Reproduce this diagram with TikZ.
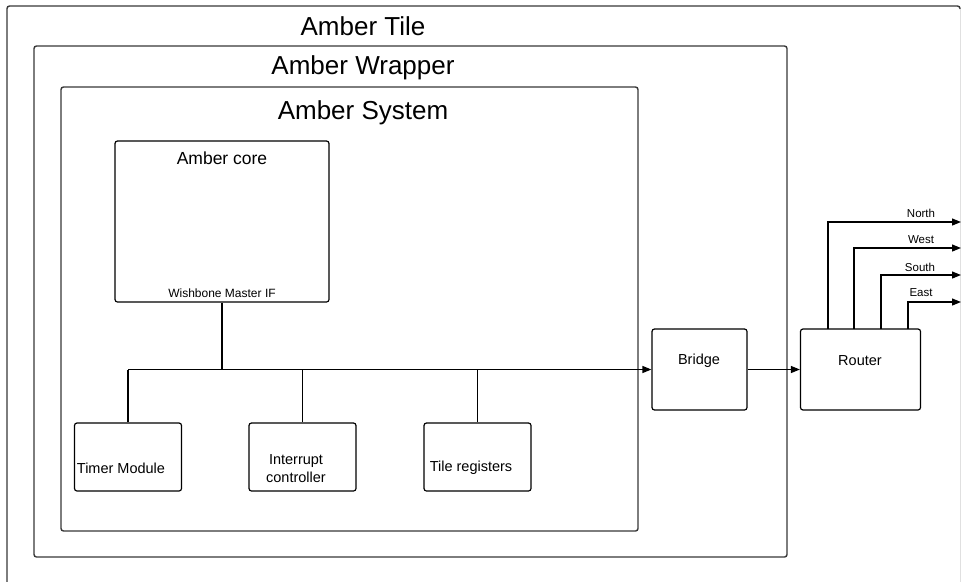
\documentclass[tikz,border=0pt]{standalone}
\usepackage{fontspec}
\setmainfont{Liberation Sans}
\usetikzlibrary{arrows.meta}
\begin{document}
\begin{tikzpicture}[x=1pt,y=-1pt,
  container/.style={draw=black!78,line width=1.4pt,rounded corners=2.5pt,rectangle,inner sep=0pt},
  blockbox/.style={draw=black,line width=1.2pt,rounded corners=2.5pt,rectangle,inner sep=0pt},
  titletext/.style={inner sep=0pt,font=\fontsize{26}{30}\selectfont},
  coretext/.style={inner sep=0pt,font=\fontsize{17.5}{21}\selectfont},
  blocktext/.style={inner sep=0pt,align=center,font=\fontsize{14.5}{17.5}\selectfont},
  smalltext/.style={inner sep=0pt,font=\fontsize{12}{14}\selectfont},
  dirtext/.style={inner sep=0pt,font=\fontsize{11.5}{13}\selectfont},
  wire/.style={draw=black,line width=1.2pt},
  arr/.style={wire,-{Triangle[length=9pt,width=7pt]}}]
\useasboundingbox (0,0) rectangle (961,581);
\clip (0,0) rectangle (961,581);
% Amber Tile (partly outside the picture)
\draw[black!78,line width=1.4pt,rounded corners=2.5pt] (7,600) -- (7,6) -- (960,6) -- (960,9);
\draw[black!12,line width=1pt] (960,9) -- (960,600);
\node[titletext] (tiletitle) at (363,26) {Amber Tile};
% Amber Wrapper
\node[container,minimum width=753pt,minimum height=511pt] (wrapper) at (410.5,301.5) {};
\node[titletext] (wraptitle) at (363,68) {Amber Wrapper};
% Amber System
\node[container,minimum width=577pt,minimum height=444pt] (system) at (349.5,309) {};
\node[titletext] (systitle) at (363,113) {Amber System};
% Amber core
\node[blockbox,minimum width=214pt,minimum height=161pt] (core) at (222,221.5) {};
\node[coretext] (coretitle) at (222,158) {Amber core};
\node[smalltext] (wbif) at (222,293) {Wishbone Master IF};
% peripherals
\node[blockbox,minimum width=107pt,minimum height=68pt] (timer) at (128,457) {};
\node[blocktext] (timertext) at (121,468) {Timer Module};
\node[blockbox,minimum width=107pt,minimum height=68pt] (intc) at (302.5,457) {};
\node[blocktext] (intctext) at (296,468.5) {Interrupt\\controller};
\node[blockbox,minimum width=107pt,minimum height=68pt] (treg) at (477.5,457) {};
\node[blocktext] (tregtext) at (471,468) {Tile registers};
% bridge and router
\node[blockbox,minimum width=95pt,minimum height=81pt] (bridge) at (699.5,369.5) {};
\node[blocktext] (bridgetext) at (699,361) {Bridge};
\node[blockbox,minimum width=120pt,minimum height=81pt] (router) at (860.5,369.5) {};
\node[blocktext] (routertext) at (860,361) {Router};
% bus
\coordinate (busL) at (128,369.5);
\coordinate (busJ) at (222,369.5);
\draw[wire] (core.south) -- (busJ);
\draw[arr] (busL) -- (bridge.west);
\draw[wire] (timer.north) -- (timer.north |- busL);
\draw[wire] (intc.north) -- (intc.north |- busL);
\draw[wire] (treg.north) -- (treg.north |- busL);
\draw[arr] (bridge.east) -- (router.west);
% router outputs
\coordinate (rN) at (828,329);
\coordinate (rW) at (854,329);
\coordinate (rS) at (881,329);
\coordinate (rE) at (908,329);
\coordinate (oN) at (961,222);
\coordinate (oW) at (961,248);
\coordinate (oS) at (961,275);
\coordinate (oE) at (961,302);
\draw[arr] (rN) |- (oN);
\draw[arr] (rW) |- (oW);
\draw[arr] (rS) |- (oS);
\draw[arr] (rE) |- (oE);
\node[dirtext] (northlbl) at (921,213) {North};
\node[dirtext] (westlbl) at (921,240) {West};
\node[dirtext] (southlbl) at (920,267) {South};
\node[dirtext] (eastlbl) at (921,293) {East};
\end{tikzpicture}
\end{document}
